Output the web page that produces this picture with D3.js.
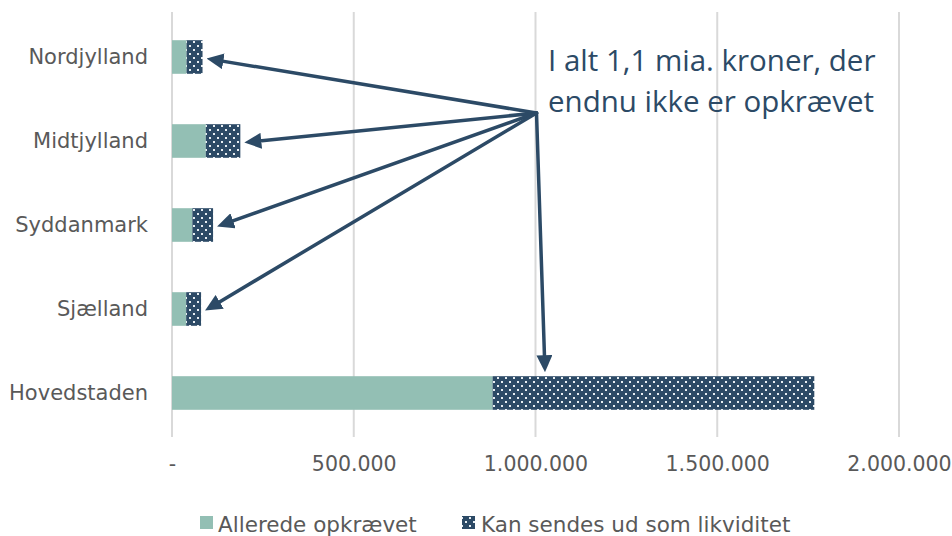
<!DOCTYPE html>
<html>
<head>
<meta charset="utf-8">
<script src="https://cdn.jsdelivr.net/npm/d3@7"></script>
<style>
body { margin: 0; background: #fff; }
svg { display: block; }
</style>
</head>
<body>
<svg id="pic" width="952" height="536"></svg>
<script>
var regions = ["Nordjylland", "Midtjylland", "Syddanmark", "Sjælland", "Hovedstaden"];
var allerede = [40000, 93000, 56000, 39000, 882000];
var kanSendes = [44000, 95000, 57000, 41000, 885000];
var ticks = [0, 500000, 1000000, 1500000, 2000000];
var tickLabels = ["-", "500.000", "1.000.000", "1.500.000", "2.000.000"];
var seriesNames = ["Allerede opkrævet", "Kan sendes ud som likviditet"];
var note = ["I alt 1,1 mia. kroner, der", "endnu ikke er opkrævet"];

var green = "#93bfb4";
var navy = "#2c4a66";
var textCol = "#595959";
var font = "DejaVu Sans";

var svg = d3.select("svg");

// dotted fill
var defs = svg.append("defs");
var pat = defs.append("pattern").attr("id", "dots")
    .attr("patternUnits", "userSpaceOnUse").attr("width", 8).attr("height", 8);
pat.append("rect").attr("width", 8).attr("height", 8).attr("fill", navy);
pat.append("rect").attr("x", 1).attr("y", 1).attr("width", 2).attr("height", 2).attr("fill", "#e8eef2");
pat.append("rect").attr("x", 5).attr("y", 5).attr("width", 2).attr("height", 2).attr("fill", "#e8eef2");

// arrow head, 17 long and 16 wide
var marker = defs.append("marker").attr("id", "head")
    .attr("markerUnits", "userSpaceOnUse")
    .attr("viewBox", "0 0 17 16").attr("refX", 7).attr("refY", 8)
    .attr("markerWidth", 17).attr("markerHeight", 16)
    .attr("orient", "auto");
marker.append("path").attr("d", "M0,0 L17,8 L0,16 z").attr("fill", navy);

var x = d3.scaleLinear().domain([0, 2000000]).range([172, 899]);
var y = d3.scaleBand().domain(regions).range([15, 435]).paddingInner(0.6).paddingOuter(0.3);

// gridlines
svg.append("g").selectAll("line").data(ticks).join("line")
    .attr("x1", d => x(d)).attr("x2", d => x(d))
    .attr("y1", 12).attr("y2", 437)
    .attr("stroke", "#d9d9d9").attr("stroke-width", 2);

// x axis labels
var xAxis = d3.axisBottom(x).tickValues(ticks).tickSize(0).tickPadding(0)
    .tickFormat((d, i) => tickLabels[i]);
var gx = svg.append("g").attr("transform", "translate(0,456)").call(xAxis);
gx.select(".domain").remove();
gx.selectAll("text").attr("font-family", font)
    .attr("font-size", 20.5).attr("fill", textCol);

// y axis labels
var yAxis = d3.axisLeft(y).tickSize(0).tickPadding(0);
var gy = svg.append("g").attr("transform", "translate(148,0)").call(yAxis);
gy.select(".domain").remove();
gy.selectAll("text").attr("font-family", font)
    .attr("font-size", 21).attr("fill", textCol);

// bars
svg.append("g").selectAll("rect").data(regions).join("rect")
    .attr("x", x(0)).attr("y", d => y(d))
    .attr("width", (d, i) => x(allerede[i]) - x(0))
    .attr("height", y.bandwidth()).attr("fill", green);
svg.append("g").selectAll("rect").data(regions).join("rect")
    .attr("x", (d, i) => x(allerede[i])).attr("y", d => y(d))
    .attr("width", (d, i) => x(allerede[i] + kanSendes[i]) - x(allerede[i]))
    .attr("height", y.bandwidth()).attr("fill", "url(#dots)");

// annotation arrows
var origin = [536.5, 113];
var ann = svg.append("g");
regions.forEach(function(r, i) {
  var tip;
  if (i == regions.length - 1) {
    tip = [545, y(r) - 4];
  } else {
    tip = [x(allerede[i] + kanSendes[i]) + 4, y(r) + y.bandwidth() / 2 + 1.5];
  }
  var dx = tip[0] - origin[0], dy = tip[1] - origin[1];
  var len = Math.sqrt(dx * dx + dy * dy);
  var end = [tip[0] - dx / len * 10, tip[1] - dy / len * 10];
  ann.append("line")
    .attr("x1", origin[0]).attr("y1", origin[1])
    .attr("x2", end[0]).attr("y2", end[1])
    .attr("stroke", navy).attr("stroke-width", 3.5)
    .attr("stroke-linecap", "round")
    .attr("marker-end", "url(#head)");
});

svg.append("g").selectAll("text").data(note).join("text")
    .attr("x", 548).attr("y", (d, i) => 71 + i * 41)
    .attr("font-family", "Open Sans").attr("font-size", 29.5)
    .attr("fill", navy).text(d => d);

// legend
var leg = svg.append("g");
var legX = [200, 462];
seriesNames.forEach(function(s, i) {
  leg.append("rect").attr("x", legX[i]).attr("y", 516).attr("width", 13).attr("height", 13)
    .attr("fill", i == 0 ? green : "url(#dots)");
  leg.append("text").attr("x", legX[i] + (i == 0 ? 18 : 19)).attr("y", 531.5)
    .attr("font-family", font)
    .attr("font-size", 21.5).attr("fill", textCol).text(s);
});
</script>
</body>
</html>
